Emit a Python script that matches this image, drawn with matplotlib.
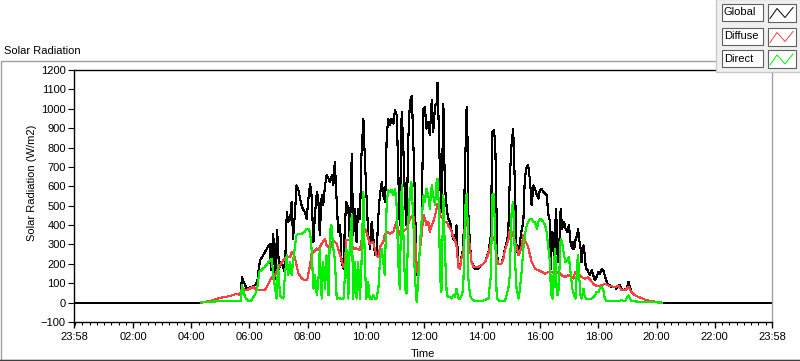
"""Solar radiation chart (Global / Diffuse / Direct) over one day, LabVIEW-style look."""

import matplotlib
matplotlib.use("Agg")
import matplotlib.pyplot as plt
from matplotlib.patches import Rectangle

plt.rcParams["font.family"] = ["Liberation Sans", "DejaVu Sans"]
plt.rcParams["font.size"] = 8

# time in minutes since midnight, irradiance in W/m2
global_t = [-2, 261, 279, 299, 320, 334, 340, 343, 344, 351, 354, 364, 371, 376, 380, 382, 392, 402, 404,
            409, 413, 417, 421, 426, 430, 433, 437, 440, 444, 447, 450, 454, 457, 461, 468, 474, 478, 481,
            485, 488, 492, 495, 499, 502, 505, 509, 512, 516, 519, 523, 526, 530, 533, 536, 540, 543, 547,
            550, 554, 557, 560, 564, 567, 571, 574, 578, 581, 584, 588, 591, 595, 598, 602, 605, 609, 612,
            615, 619, 622, 626, 629, 633, 636, 640, 643, 646, 650, 653, 657, 660, 664, 667, 670, 674, 677,
            681, 684, 688, 691, 695, 698, 701, 705, 708, 712, 715, 719, 722, 725, 729, 732, 736, 739, 743,
            746, 748, 751, 753, 756, 760, 763, 767, 770, 774, 777, 780, 784, 787, 791, 794, 798, 801, 805,
            808, 810, 811, 815, 818, 822, 825, 832, 839, 846, 853, 858, 861, 864, 867, 869, 871, 873, 880,
            884, 887, 891, 894, 897, 901, 904, 908, 911, 915, 918, 922, 925, 928, 932, 935, 939, 942, 946,
            949, 953, 956, 959, 963, 966, 970, 973, 977, 980, 982, 983, 985, 987, 989, 992, 994, 996, 999,
            1002, 1005, 1009, 1012, 1016, 1019, 1023, 1026, 1028, 1030, 1033, 1036, 1038, 1040, 1043, 1045,
            1049, 1051, 1054, 1056, 1059, 1062, 1066, 1069, 1073, 1076, 1080, 1083, 1087, 1090, 1093, 1097,
            1100, 1104, 1107, 1114, 1117, 1121, 1124, 1128, 1131, 1135, 1138, 1142, 1145, 1148, 1155, 1162,
            1169, 1176, 1183, 1197, 1210, 1438]
global_w = [0, 0, 9, 24, 34, 46, 38, 40, 132, 89, 72, 81, 89, 107, 190, 218, 261, 304, 167,
            356, 124, 377, 175, 210, 180, 158, 468, 416, 433, 520, 330, 468, 605, 580, 494, 468, 433, 519,
            614, 554, 313, 451, 571, 537, 347, 554, 502, 605, 657, 640, 623, 657, 605, 726, 519, 365, 399,
            210, 175, 416, 519, 485, 313, 769, 347, 485, 313, 485, 433, 760, 949, 743, 519, 347, 279, 416,
            347, 244, 244, 451, 554, 623, 554, 519, 846, 949, 915, 949, 924, 992, 967, 657, 399, 984, 829,
            519, 399, 863, 1035, 1066, 829, 560, 141, 175, 279, 416, 1001, 1010, 898, 932, 863, 1044, 881, 1018,
            1027, 1135, 863, 657, 468, 1027, 607, 485, 433, 416, 365, 330, 322, 399, 184, 175, 244, 279, 726,
            1010, 829, 485, 296, 210, 193, 175, 175, 193, 210, 261, 347, 881, 889, 829, 571, 244, 201, 201,
            236, 279, 313, 365, 640, 829, 898, 571, 279, 244, 313, 382, 416, 640, 700, 709, 623, 502, 605,
            588, 554, 537, 580, 588, 571, 562, 554, 451, 416, 175, 365, 365, 279, 175, 485, 399, 210, 279,
            485, 382, 416, 382, 365, 399, 296, 279, 313, 279, 330, 347, 382, 330, 279, 210,
            296, 261, 175, 175, 158, 141, 167, 141, 115, 132, 158, 150, 175, 167, 141, 107,
            89, 89, 81, 81, 72, 89, 89, 72, 64, 69, 72, 107, 81, 55, 38, 29,
            24, 15, 10, 5, 0, 0]

diffuse_t = [261, 279, 299, 320, 334, 340, 344, 354, 368, 375, 382, 392, 399, 406, 409, 416, 423, 430, 437,
             444, 447, 450, 454, 457, 461, 468, 474, 479, 485, 488, 492, 499, 502, 509, 516, 519, 526, 533,
             540, 547, 554, 557, 560, 567, 574, 581, 588, 595, 598, 601, 608, 615, 622, 626, 629, 636, 639,
             643, 650, 657, 663, 670, 677, 684, 691, 698, 701, 705, 708, 712, 715, 719, 722, 725, 729, 732,
             736, 739, 743, 746, 748, 751, 753, 756, 760, 763, 767, 770, 774, 777, 780, 784, 787, 791, 794,
             798, 801, 805, 808, 811, 815, 818, 822, 825, 832, 839, 846, 853, 860, 863, 867, 870, 873, 880,
             884, 887, 894, 897, 901, 904, 908, 911, 915, 918, 922, 925, 928, 932, 935, 939, 942, 949, 956,
             963, 970, 977, 983, 990, 997, 1004, 1011, 1018, 1025, 1028, 1032, 1035, 1038, 1045, 1052, 1059,
             1066, 1073, 1080, 1087, 1093, 1100, 1107, 1114, 1121, 1128, 1135, 1142, 1148, 1155, 1162, 1169,
             1176, 1183, 1197, 1210]
diffuse_w = [0, 9, 24, 34, 46, 38, 72, 64, 81, 64, 64, 64, 98, 132, 124, 158, 193, 218, 236,
             236, 261, 253, 227, 193, 150, 124, 115, 115, 193, 253, 261, 279, 270, 304, 330, 296, 279, 322,
             304, 244, 184, 210, 322, 322, 279, 279, 270, 382, 382, 365, 304, 313, 244, 236, 287, 313, 347,
             365, 356, 365, 416, 347, 365, 382, 433, 451, 382, 158, 193, 279, 347, 451, 433, 399, 416, 365,
             399, 416, 451, 485, 511, 502, 451, 442, 433, 416, 416, 399, 382, 365, 339, 322, 296, 184, 175,
             236, 261, 433, 442, 365, 279, 210, 184, 184, 184, 193, 210, 253, 330, 339, 313, 236, 201, 201,
             230, 270, 322, 373, 365, 347, 313, 287, 244, 261, 296, 347, 322, 304, 287, 244, 210, 175, 167,
             158, 150, 158, 158, 150, 158, 141, 132, 141, 132, 124, 158, 150, 150, 132, 124, 132,
             107, 89, 86, 89, 98, 89, 84, 81, 86, 64, 64, 81, 55, 38, 29, 24,
             15, 10, 5, 0]

direct_t = [261, 279, 299, 320, 343, 344, 351, 358, 364, 371, 376, 380, 392, 402, 406, 409, 413, 416, 419,
            423, 426, 430, 433, 437, 440, 444, 447, 450, 454, 457, 461, 468, 474, 478, 481, 485, 488, 492,
            495, 499, 502, 505, 509, 512, 516, 519, 523, 526, 529, 533, 536, 540, 543, 547, 550, 554, 557,
            560, 564, 567, 571, 574, 578, 581, 584, 588, 591, 595, 598, 601, 605, 608, 612, 615, 619, 622,
            626, 629, 633, 636, 639, 643, 646, 650, 653, 657, 660, 663, 667, 670, 674, 677, 681, 684, 688,
            691, 694, 698, 701, 705, 708, 712, 715, 719, 722, 725, 729, 732, 736, 739, 743, 746, 748, 751,
            753, 756, 760, 763, 767, 770, 774, 777, 780, 784, 787, 791, 794, 798, 801, 805, 808, 810, 811,
            815, 818, 825, 839, 853, 858, 861, 864, 867, 870, 873, 880, 887, 894, 897, 901, 904, 908, 911,
            915, 918, 922, 925, 928, 932, 935, 939, 942, 946, 949, 953, 956, 959, 963, 966, 970, 973, 977,
            980, 982, 983, 985, 987, 990, 992, 994, 997, 999, 1002, 1005, 1009, 1012, 1016, 1019, 1023,
            1026, 1030, 1033, 1036, 1038, 1040, 1043, 1045, 1049, 1051, 1054, 1059, 1066, 1073, 1076, 1080,
            1083, 1087, 1090, 1093, 1097, 1114, 1121, 1128, 1135, 1138, 1142, 1145, 1148, 1183, 1210]
direct_w = [2, 5, 7, 7, 7, 89, 29, 7, 12, 38, 72, 158, 184, 218, 227, 141, 72, 21, 193,
            38, 29, 21, 141, 244, 141, 210, 141, 210, 296, 347, 356, 356, 365, 382, 382, 365, 279, 72,
            141, 38, 107, 279, 21, 210, 72, 244, 38, 365, 399, 279, 227, 21, 24, 21, 17, 21, 141,
            279, 21, 313, 451, 21, 210, 21, 210, 21, 193, 571, 210, 21, 107, 21, 17, 38, 21, 21,
            72, 210, 279, 210, 141, 502, 580, 571, 580, 554, 588, 537, 210, 72, 605, 399, 72, 46, 433,
            571, 623, 433, 141, 3, 107, 313, 416, 554, 519, 588, 554, 485, 605, 554, 502, 623, 640, 485,
            141, 55, 554, 279, 38, 29, 29, 21, 38, 29, 72, 21, 21, 38, 72, 485, 562, 416, 141,
            38, 21, 7, 7, 21, 141, 554, 562, 347, 29, 12, 7, 7, 72, 141, 485, 519, 210, 72,
            21, 72, 175, 279, 347, 399, 416, 433, 433, 416, 416, 382, 416, 433, 425, 416, 399, 365, 279,
            210, 38, 141, 21, 72, 279, 210, 38, 38, 141, 330, 313, 244, 210, 218, 236, 141,
            72, 38, 21, 210, 244, 141, 38, 21, 72, 38, 21, 17, 21, 38, 55, 55,
            72, 81, 64, 21, 7, 7, 9, 12, 7, 21, 38, 21, 7, 3, 0]

series_names = ["Global", "Diffuse", "Direct"]
series_colors = ["#000000", "#ff4040", "#00f000"]

tick_minutes = [-2, 120, 240, 360, 480, 600, 720, 840, 960, 1080, 1200, 1320, 1438]
tick_labels = ["23:58", "02:00", "04:00", "06:00", "08:00", "10:00", "12:00",
               "14:00", "16:00", "18:00", "20:00", "22:00", "23:58"]

W, H = 800, 361
fig = plt.figure(figsize=(W / 100, H / 100), dpi=100)
fig.patch.set_facecolor("white")

# plot area in pixels: x 74..772, y 70..322
ax = fig.add_axes([74 / W, (H - 322) / H, (772 - 74) / W, (322 - 70) / H])
for t, w, c in zip([global_t, diffuse_t, direct_t], [global_w, diffuse_w, direct_w], series_colors):
    ax.plot(t, w, color=c, lw=0.8, antialiased=False)

ax.set_xlim(-2, 1438)
ax.set_ylim(-100, 1200)
ax.set_yticks(range(-100, 1201, 100))
ax.set_xticks(tick_minutes)
ax.set_xticklabels(tick_labels)
ax.set_xticks(range(0, 1440, 15), minor=True)
ax.tick_params(axis="x", which="major", length=4, width=1, pad=3, labelsize=8, colors="black")
ax.tick_params(axis="x", which="minor", length=2.5, width=0.8)
ax.tick_params(axis="y", length=4, width=0.8, pad=2, labelsize=8)
for side in ["left", "bottom", "top"]:
    ax.spines[side].set_color("black")
    ax.spines[side].set_linewidth(1)
ax.spines["right"].set_color("#a0a0a0")
ax.spines["right"].set_linewidth(1)

# overlay in pixel coordinates for frame, captions and legend
ov = fig.add_axes([0, 0, 1, 1], zorder=5)
ov.set_xlim(0, W)
ov.set_ylim(H, 0)
ov.axis("off")
ov.patch.set_alpha(0)

ov.add_patch(Rectangle((0.5, 61), 805, 299, fill=False, edgecolor="#a0a0a0", lw=1))
ov.plot([0, W], [360, 360], color="#404040", lw=1)

ov.text(4, 51, "Solar Radiation", ha="left", va="center", fontsize=8)
ov.text(32, 183, "Solar Radiation (W/m2)", ha="center", va="center", rotation=90, fontsize=8)
ov.text(423, 354, "Time", ha="center", va="center", fontsize=8)

# legend
ov.add_patch(Rectangle((716, -1), 90, 73, facecolor="#f0f0f0", edgecolor="#c8c8c8", lw=1))
row_tops = [3.5, 27.5, 50]
for name, color, top in zip(series_names, series_colors, row_tops):
    ov.add_patch(Rectangle((721.5, top), 41, 17, facecolor="white", edgecolor="#606060", lw=0.8))
    ov.text(724, top + 8.5, name, ha="left", va="center", fontsize=8)
    ov.add_patch(Rectangle((767.5, top), 28.5, 18, facecolor="white", edgecolor="#606060", lw=0.8))
    ov.plot([770, 777, 785, 793], [top + 15, top + 5, top + 14, top + 4], color=color, lw=0.7)

fig.savefig("out.png", dpi=100)
